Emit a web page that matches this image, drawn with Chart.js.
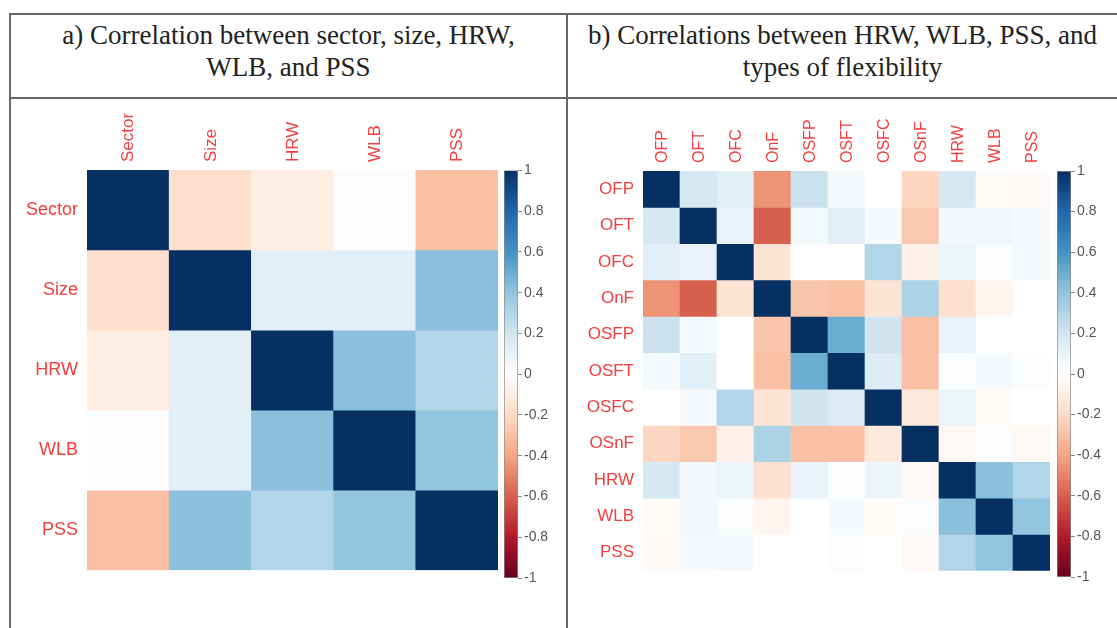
<!DOCTYPE html>
<html>
<head>
<meta charset="utf-8">
<script src="https://cdn.jsdelivr.net/npm/chart.js@4"></script>
<style>
  body { margin: 0; width: 1117px; height: 628px; background: #fff; position: relative; overflow: hidden; }
  .line { position: absolute; background: #666; }
  .title { position: absolute; font-family: "Liberation Serif", "Times New Roman", serif; font-size: 27px;
           color: #222; text-align: center; line-height: 32px; }
  canvas { position: absolute; }
</style>
</head>
<body>
<div class="line" style="left:9px; top:13px; width:1108px; height:2px;"></div>
<div class="line" style="left:9px; top:97px; width:1108px; height:2px;"></div>
<div class="line" style="left:9px; top:13px; width:2px; height:615px;"></div>
<div class="line" style="left:566px; top:13px; width:2px; height:615px;"></div>

<div class="title" style="left:11px; top:19px; width:555px;">a) Correlation between sector, size, HRW,<br>WLB, and PSS</div>
<div class="title" style="left:568px; top:19px; width:549px;">b) Correlations between HRW, WLB, PSS, and<br>types of flexibility</div>

<canvas id="heatA" width="505" height="500" style="left:0; top:90px;"></canvas>
<canvas id="barA" width="56" height="430" style="left:504px; top:160px;"></canvas>
<canvas id="heatB" width="485" height="500" style="left:570px; top:90px;"></canvas>
<canvas id="barB" width="60" height="430" style="left:1057px; top:160px;"></canvas>

<script>
// variables, panel a
const varsA = ["Sector", "Size", "HRW", "WLB", "PSS"];
const corrA = [
  [ 1.00, -0.18, -0.10,  0.02, -0.30],
  [-0.18,  1.00,  0.12,  0.12,  0.42],
  [-0.10,  0.12,  1.00,  0.42,  0.30],
  [ 0.02,  0.12,  0.42,  1.00,  0.40],
  [-0.30,  0.42,  0.30,  0.40,  1.00]
];

// variables, panel b
const varsB = ["OFP", "OFT", "OFC", "OnF", "OSFP", "OSFT", "OSFC", "OSnF", "HRW", "WLB", "PSS"];
const corrB = [
  [ 1.00,  0.18,  0.12, -0.45,  0.22,  0.05,  0.00, -0.22,  0.18, -0.02, -0.03],
  [ 0.18,  1.00,  0.10, -0.60,  0.05,  0.12,  0.04, -0.27,  0.06,  0.06,  0.04],
  [ 0.12,  0.10,  1.00, -0.15,  0.00,  0.00,  0.30, -0.08,  0.08,  0.02,  0.05],
  [-0.45, -0.60, -0.15,  1.00, -0.28, -0.30, -0.15,  0.32, -0.17, -0.05,  0.00],
  [ 0.22,  0.05,  0.00, -0.28,  1.00,  0.50,  0.20, -0.30,  0.10,  0.00,  0.00],
  [ 0.05,  0.12,  0.00, -0.30,  0.50,  1.00,  0.15, -0.30,  0.02,  0.04,  0.02],
  [ 0.00,  0.04,  0.30, -0.15,  0.20,  0.15,  1.00, -0.12,  0.08, -0.02,  0.00],
  [-0.22, -0.27, -0.08,  0.32, -0.30, -0.30, -0.12,  1.00, -0.04,  0.02, -0.04],
  [ 0.18,  0.06,  0.08, -0.17,  0.10,  0.02,  0.08, -0.04,  1.00,  0.42,  0.30],
  [-0.02,  0.06,  0.02, -0.05,  0.00,  0.04, -0.02,  0.02,  0.42,  1.00,  0.40],
  [-0.03,  0.04,  0.05,  0.00,  0.00,  0.02,  0.00, -0.04,  0.30,  0.40,  1.00]
];

// colour bar ticks
const barTicks = [-1, -0.8, -0.6, -0.4, -0.2, 0, 0.2, 0.4, 0.6, 0.8, 1];

// RdBu palette, -1 .. 1
const rdbu = ["#67001F", "#B2182B", "#D6604D", "#F4A582", "#FDDBC7", "#FFFFFF",
              "#D1E5F0", "#92C5DE", "#4393C3", "#2166AC", "#053061"];
const labelRed = "rgb(242,62,62)";

function hexRgb(h) {
  return [1, 3, 5].map(i => parseInt(h.substr(i, 2), 16));
}

function corrColor(v) {
  const t = (v + 1) / 2 * (rdbu.length - 1);
  const i = Math.min(Math.floor(t), rdbu.length - 2);
  const f = t - i;
  const a = hexRgb(rdbu[i]), b = hexRgb(rdbu[i + 1]);
  const c = a.map((x, k) => Math.round(x + (b[k] - x) * f));
  return "rgb(" + c.join(",") + ")";
}

function heatmap(id, labels, matrix, cfg) {
  const n = labels.length;
  new Chart(document.getElementById(id), {
    type: "bar",
    data: {
      labels: labels,
      datasets: matrix.map((row, r) => ({
        data: row.map(() => [r, r + 1]),
        backgroundColor: row.map(corrColor),
        borderWidth: 0,
        barPercentage: 1,
        categoryPercentage: 1,
        grouped: false
      }))
    },
    options: {
      responsive: false,
      animation: false,
      layout: { padding: { left: 0, top: 0, right: cfg.padRight, bottom: cfg.padBottom } },
      plugins: { legend: { display: false }, tooltip: { enabled: false } },
      scales: {
        x: {
          position: "top",
          grid: { display: false, drawTicks: false },
          border: { display: false },
          ticks: {
            color: labelRed, autoSkip: false, maxRotation: 90, minRotation: 90, padding: 8,
            labelOffset: Math.round(cfg.colFont * 1.22),
            font: { family: "Liberation Sans", size: cfg.colFont }
          },
          afterFit: s => { s.height = cfg.top; }
        },
        y: {
          min: 0, max: n, reverse: true,
          grid: { display: false, drawTicks: false },
          border: { display: false },
          afterBuildTicks: s => { s.ticks = labels.map((_, i) => ({ value: i + 0.5 })); },
          ticks: {
            color: labelRed, autoSkip: false, padding: 9,
            font: { family: "Liberation Sans", size: cfg.rowFont },
            callback: v => labels[Math.floor(v)]
          },
          afterFit: s => { s.width = cfg.left; }
        }
      }
    }
  });
}

function colorbar(id, cfg) {
  new Chart(document.getElementById(id), {
    type: "bar",
    data: {
      labels: [""],
      datasets: [{
        data: [[barTicks[0], barTicks[barTicks.length - 1]]],
        backgroundColor: c => {
          const a = c.chart.chartArea;
          if (!a) return null;
          const g = c.chart.ctx.createLinearGradient(0, a.bottom, 0, a.top);
          rdbu.forEach((col, i) => g.addColorStop(i / (rdbu.length - 1), col));
          return g;
        },
        borderColor: "#8a8a8a",
        borderWidth: 1,
        borderSkipped: false,
        barPercentage: 1,
        categoryPercentage: 1
      }]
    },
    options: {
      responsive: false,
      animation: false,
      layout: { padding: { left: 0, top: cfg.padTop, right: 0, bottom: cfg.padBottom } },
      plugins: { legend: { display: false }, tooltip: { enabled: false } },
      scales: {
        x: { display: false },
        y: {
          position: "right",
          min: -1, max: 1,
          afterBuildTicks: s => { s.ticks = barTicks.map(v => ({ value: v })); },
          grid: { drawOnChartArea: false, drawTicks: true, tickLength: 4, color: "#888" },
          border: { display: false },
          ticks: {
            color: "#555", padding: 2,
            font: { family: "Liberation Sans", size: 14 },
            callback: v => String(Math.round(v * 10) / 10)
          },
          afterFit: s => { s.width = cfg.axisWidth; }
        }
      }
    }
  });
}

heatmap("heatA", varsA, corrA, { left: 87, top: 80, padRight: 7, padBottom: 10, rowFont: 18, colFont: 17 });
heatmap("heatB", varsB, corrB, { left: 73, top: 81, padRight: 5, padBottom: 13, rowFont: 17, colFont: 16 });
colorbar("barA", { padTop: 9, padBottom: 12, axisWidth: 42 });
colorbar("barB", { padTop: 11, padBottom: 13, axisWidth: 46 });
</script>
</body>
</html>
